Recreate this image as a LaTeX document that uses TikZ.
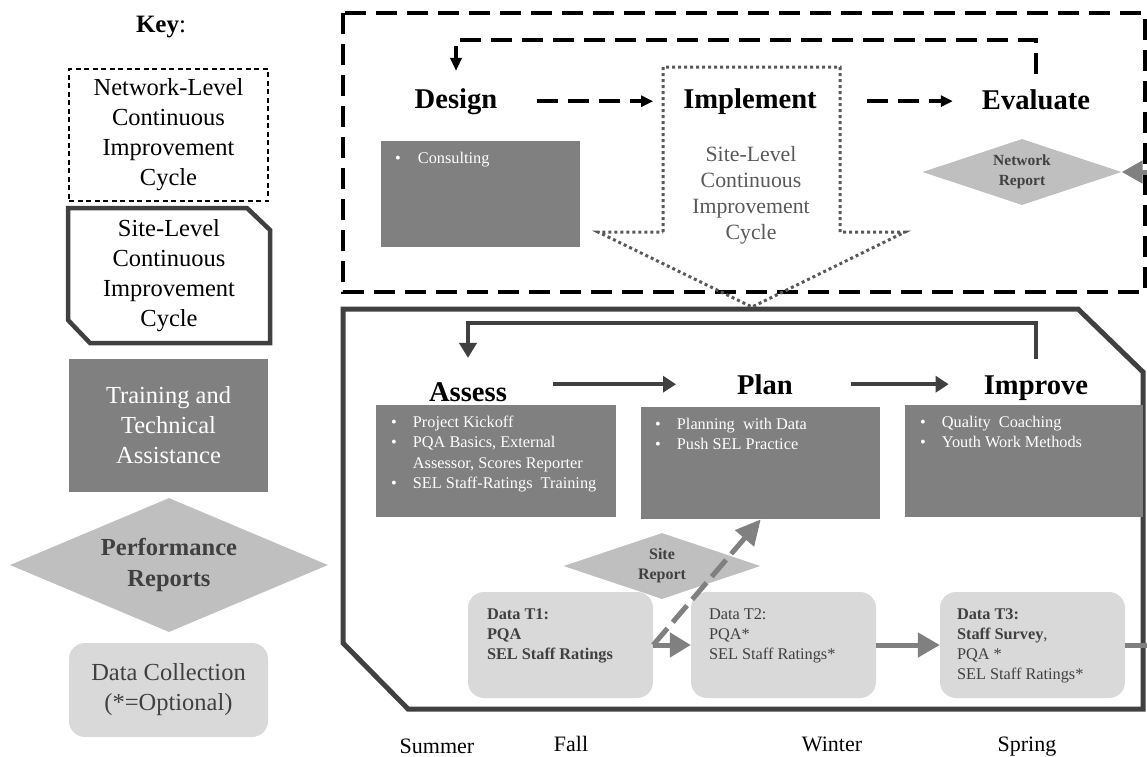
\documentclass[tikz,border=0pt]{standalone}
\usepackage{fontspec}
\setmainfont{Liberation Serif}
\usetikzlibrary{arrows.meta,shapes.geometric}

\definecolor{darkgrey}{HTML}{404040}
\definecolor{midgrey}{HTML}{808080}
\definecolor{dotgrey}{HTML}{595959}
\definecolor{diagrey}{HTML}{BFBFBF}
\definecolor{palegrey}{HTML}{D9D9D9}

\newcommand{\fsz}[2]{\fontsize{#1pt}{#2pt}\selectfont}
\newcommand{\bul}{\textbullet}

\begin{document}
\begin{tikzpicture}[x=1pt,y=-1pt,
    head/.style={font=\bfseries\fsz{28.6}{34}, inner sep=0pt, anchor=base},
    keytxt/.style={font=\fsz{24.5}{30}, align=center, inner sep=0pt},
    tabox/.style={fill=midgrey, inner sep=0pt, anchor=north west},
    bultxt/.style={font=\fsz{16.3}{20.3}, text=white, inner sep=0pt, anchor=north west},
    report/.style={diamond, fill=diagrey, inner sep=0pt, text=darkgrey, align=center},
    databox/.style={fill=palegrey, rounded corners=16pt, minimum width=185pt, minimum height=106pt, inner sep=0pt},
    datatxt/.style={font=\fsz{16.3}{20}, text=darkgrey, align=left, inner sep=0pt, anchor=north west},
    netline/.style={black, line width=4.5pt, dash pattern=on 21pt off 10pt},
    siteline/.style={darkgrey, line width=4.5pt},
    dataline/.style={midgrey, line width=5pt},
    season/.style={font=\fsz{22}{26}, inner sep=0pt, anchor=base}
]
    % Page size
    \useasboundingbox (0,0) rectangle (1147,756);

    % 1. The key
    \node[font=\fsz{25}{30}, inner sep=0pt, anchor=base] (keytitle) at (161,32) {\textbf{Key}:};
    \node[keytxt, draw, line width=1.3pt, dash pattern=on 5pt off 3.5pt,
          minimum width=199pt, minimum height=132pt] (keynet) at (168.5,135)
          {Network-Level\\Continuous\\Improvement\\Cycle};
    \draw[siteline] (68,208) -- (247,208) -- (270,230) -- (270,343) -- (90,343) -- (68,320) -- cycle;
    \node[keytxt] (keysite) at (169,276) {Site-Level\\Continuous\\Improvement\\Cycle};
    \node[keytxt, fill=midgrey, text=white, minimum width=199pt, minimum height=133pt] (keyta)
          at (168.5,425) {Training and\\Technical\\Assistance};
    \node[report, font=\bfseries\fsz{24.5}{31}, minimum width=318pt, minimum height=134pt,
          aspect=2.4] (keyrep) at (169,565) {Performance\\Reports};
    \node[keytxt, text=darkgrey, fill=palegrey, rounded corners=16pt, minimum width=199pt,
          minimum height=94pt] (keydata) at (168.5,690) {Data Collection\\(*=Optional)};

    % 2. Frames
    \draw[netline] (343,13) rectangle (1145,292);
    \draw[siteline, line width=5pt] (343,309) -- (1078,309) -- (1143,372) -- (1143,709)
          -- (408,709) -- (343,643) -- cycle;

    % 3. Network-level cycle
    \coordinate (netloop) at (0,40);
    \node[head] (design) at (456,108) {Design};
    \node[head] (implement) at (750,108) {Implement};
    \node[head] (evaluate) at (1036,109) {Evaluate};
    \draw[netline, -{Triangle[length=12pt,width=11pt]}, shorten <=39pt, shorten >=30pt]
          (design.east) -- (design.east -| implement.west);
    \draw[netline, -{Triangle[length=12pt,width=11pt]}, shorten <=50pt, shorten >=29pt]
          (implement.east) -- (implement.east -| evaluate.west);
    \draw[netline, -{Triangle[length=13pt,width=11pt]}, shorten <=15pt, shorten >=17pt]
          (evaluate.north) -- (evaluate.north |- netloop) -| (design.north);

    \node[tabox, minimum width=199pt, minimum height=106pt] (consultbox) at (381,141) {};
    \node[bultxt] at ([shift={(14,8)}]consultbox.north west)
          {\begin{tabular}{@{}l@{\hspace{17pt}}l@{}}\bul & Consulting\end{tabular}};

    % dotted block arrow down into the site-level cycle
    \draw[dotgrey, line width=3pt, dash pattern=on 3pt off 3pt] (663,232) -- (663,67) -- (840,67)
          -- (840,232) -- (905,232) -- (752,307) -- (598,232) -- cycle;
    \node[font=\fsz{21.8}{26}, text=dotgrey, align=center, inner sep=0pt] (sitecycle)
          at (751,195) {Site-Level\\Continuous\\Improvement\\Cycle};

    \node[report, font=\bfseries\fsz{15.5}{20}, minimum width=199pt, minimum height=66pt,
          aspect=3] (netrep) at (1022,172) {Network\\Report};

    % 4. Site-level cycle
    \coordinate (siteloop) at (0,323);
    \node[head] (assess) at (468,401) {Assess};
    \node[head] (plan) at (765,394) {Plan};
    \node[head] (improve) at (1036,394) {Improve};
    \draw[siteline, -{Triangle[length=13pt,width=16pt]}, shorten <=46pt, shorten >=61pt]
          (assess.east |- plan.west) -- (plan.west);
    \draw[siteline, -{Triangle[length=13pt,width=16pt]}, shorten <=58pt, shorten >=35pt]
          (plan.east) -- (plan.east -| improve.west);
    \draw[siteline, -{Triangle[length=15pt,width=17pt]}, shorten <=16pt, shorten >=24pt]
          (improve.north) -- (improve.north |- siteloop) -| (assess.north);

    \node[tabox, minimum width=240pt, minimum height=112pt] (assessbox) at (376,405) {};
    \node[tabox, minimum width=239pt, minimum height=112pt] (planbox) at (641,407) {};
    \node[tabox, minimum width=238pt, minimum height=112pt] (improvebox) at (905,405) {};
    \node[bultxt] at ([shift={(15,8)}]assessbox.north west)
          {\begin{tabular}{@{}l@{\hspace{16pt}}l@{}}
           \bul & Project Kickoff\\
           \bul & PQA Basics, External\\
                & Assessor, Scores Reporter\\
           \bul & SEL Staff-Ratings\ \ Training
           \end{tabular}};
    \node[bultxt] at ([shift={(14,8)}]planbox.north west)
          {\begin{tabular}{@{}l@{\hspace{16pt}}l@{}}
           \bul & Planning\ \ with Data\\
           \bul & Push SEL Practice
           \end{tabular}};
    \node[bultxt] at ([shift={(15,8)}]improvebox.north west)
          {\begin{tabular}{@{}l@{\hspace{16pt}}l@{}}
           \bul & Quality\ \ Coaching\\
           \bul & Youth Work Methods
           \end{tabular}};

    \node[report, font=\bfseries\fsz{16}{20}, minimum width=197pt, minimum height=66pt,
          aspect=3] (sitereport) at (662,566) {Site\\Report};

    % 5. Data collection
    \node[databox] (t1) at (560.5,645) {};
    \node[databox] (t2) at (783.5,645) {};
    \node[databox] (t3) at (1032.5,645) {};
    \node[datatxt, font=\bfseries\fsz{16.3}{20}] at ([shift={(19,17)}]t1.north west)
          {Data T1:\\PQA\\SEL Staff Ratings};
    \node[datatxt] at ([shift={(18,17)}]t2.north west) {Data T2:\\PQA*\\SEL Staff Ratings*};
    \node[datatxt] at ([shift={(17,17)}]t3.north west)
          {\textbf{Data T3:}\\\textbf{Staff Survey},\\PQA *\\SEL Staff Ratings*};

    \coordinate (rightlow) at (1175,645);
    \coordinate (righthigh) at (1175,172);
    \draw[dataline, -{Triangle[length=21pt,width=24pt]}] (t1.east) -- (t2.west);
    \draw[dataline, -{Triangle[length=22pt,width=24pt]}] (t2.east) -- (t3.west);
    \draw[dataline, -{Triangle[length=21pt,width=22pt]}] (t3.east) -- (rightlow) -- (righthigh) -- (netrep.east);
    \draw[dataline, dash pattern=on 22pt off 8pt, -{Triangle[length=25pt,width=24pt]}]
          (t1.east) -- (planbox.south);

    % 6. Seasons
    \node[season] (summer) at (437,753) {Summer};
    \node[season] (fall) at (571,751) {Fall};
    \node[season] (winter) at (832,751) {Winter};
    \node[season] (spring) at (1027,751) {Spring};

\end{tikzpicture}
\end{document}
